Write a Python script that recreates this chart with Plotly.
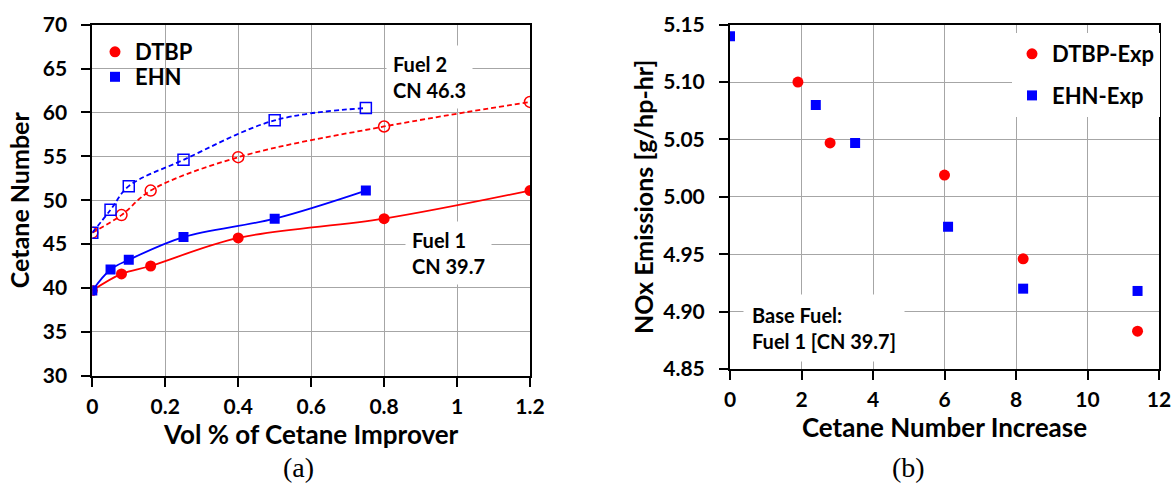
import plotly.graph_objects as go

# ---------------- data: panel (a) ----------------
dtbp_vol = [0, 0.08, 0.16, 0.4, 0.8, 1.2]
dtbp_fuel1 = [39.7, 41.6, 42.5, 45.7, 47.9, 51.1]
dtbp_fuel2 = [46.3, 48.3, 51.1, 54.9, 58.4, 61.2]
ehn_vol = [0, 0.05, 0.1, 0.25, 0.5, 0.75]
ehn_fuel1 = [39.7, 42.1, 43.2, 45.8, 47.9, 51.1]
ehn_fuel2 = [46.3, 48.9, 51.6, 54.6, 59.1, 60.5]

# ---------------- data: panel (b) ----------------
dtbp_cn_inc = [1.9, 2.8, 6.0, 8.2, 11.4]
dtbp_nox = [5.100, 5.047, 5.019, 4.946, 4.883]
ehn_cn_inc = [0, 2.4, 3.5, 6.1, 8.2, 11.4]
ehn_nox = [5.140, 5.080, 5.047, 4.974, 4.920, 4.918]

RED = "#ff0000"
BLUE = "#0000ff"
FONT = "Lato"
GRID = "#a6a6a6"

fig = go.Figure()

# panel (a) smooth lines
fig.add_trace(go.Scatter(x=dtbp_vol, y=dtbp_fuel1, mode="lines", line=dict(color=RED, width=1.8, shape="spline"),
                         showlegend=False, xaxis="x", yaxis="y"))
fig.add_trace(go.Scatter(x=dtbp_vol, y=dtbp_fuel2, mode="lines", line=dict(color=RED, width=1.8, shape="spline", dash="5px,3px"),
                         showlegend=False, xaxis="x", yaxis="y"))
fig.add_trace(go.Scatter(x=ehn_vol, y=ehn_fuel1, mode="lines", line=dict(color=BLUE, width=1.8, shape="spline"),
                         showlegend=False, xaxis="x", yaxis="y"))
fig.add_trace(go.Scatter(x=ehn_vol, y=ehn_fuel2, mode="lines", line=dict(color=BLUE, width=1.8, shape="spline", dash="5px,3px"),
                         showlegend=False, xaxis="x", yaxis="y"))
# panel (a) markers
fig.add_trace(go.Scatter(x=dtbp_vol, y=dtbp_fuel2, mode="markers",
                         marker=dict(symbol="circle-open", size=11, color=RED, line=dict(width=1.5, color=RED)),
                         showlegend=False, xaxis="x", yaxis="y"))
fig.add_trace(go.Scatter(x=ehn_vol, y=ehn_fuel2, mode="markers",
                         marker=dict(symbol="square-open", size=11, color=BLUE, line=dict(width=1.5, color=BLUE)),
                         showlegend=False, xaxis="x", yaxis="y"))
fig.add_trace(go.Scatter(x=dtbp_vol, y=dtbp_fuel1, mode="markers", name="DTBP",
                         marker=dict(symbol="circle", size=11, color=RED),
                         legend="legend", xaxis="x", yaxis="y"))
fig.add_trace(go.Scatter(x=ehn_vol, y=ehn_fuel1, mode="markers", name="EHN",
                         marker=dict(symbol="square", size=10, color=BLUE),
                         legend="legend3", xaxis="x", yaxis="y"))

# panel (b)
fig.add_trace(go.Scatter(x=dtbp_cn_inc, y=dtbp_nox, mode="markers", name="DTBP-Exp",
                         marker=dict(symbol="circle", size=11, color=RED),
                         legend="legend2", legendgroup="d", xaxis="x2", yaxis="y2"))
fig.add_trace(go.Scatter(x=ehn_cn_inc, y=ehn_nox, mode="markers", name="EHN-Exp",
                         marker=dict(symbol="square", size=10, color=BLUE),
                         legend="legend2", legendgroup="e", xaxis="x2", yaxis="y2"))

W, H = 1172, 484
def px_x(p):
    return p / W
def px_y(p):
    return 1 - p / H

axis_common = dict(
    showline=True, mirror=True, linecolor="black", linewidth=2,
    showgrid=True, gridcolor=GRID, gridwidth=1,
    ticks="outside", ticklen=9, tickwidth=1.5, tickcolor="black",
    zeroline=False, automargin=False,
    tickfont=dict(family=FONT, size=21, color="black", weight="bold"),
)
title_font_x = dict(family=FONT, size=26, color="black", weight="bold")
title_font_y = dict(family=FONT, size=25, color="black", weight="bold")
legend_font = dict(family=FONT, size=22, color="black", weight="bold")

fig.update_layout(
    width=W, height=H,
    margin=dict(l=0, r=0, t=0, b=0),
    paper_bgcolor="white", plot_bgcolor="white",
    font=dict(family=FONT, color="black"),
    xaxis=dict(domain=[px_x(92.3), px_x(530)], range=[0, 1.2], tickvals=[0, 0.2, 0.4, 0.6, 0.8, 1, 1.2],
               ticktext=["0", "0.2", "0.4", "0.6", "0.8", "1", "1.2"], ticklabelstandoff=2,
               title=dict(text="Vol % of Cetane Improver", standoff=0, font=title_font_x), anchor="y", **axis_common),
    yaxis=dict(domain=[px_y(375.7), px_y(24.7)], range=[30, 70], dtick=5, ticklabelstandoff=10,
               title=dict(text="Cetane Number", standoff=6, font=title_font_y), anchor="x", **axis_common),
    xaxis2=dict(domain=[px_x(730), px_x(1159)], range=[0, 12], dtick=2, ticklabelstandoff=2,
                title=dict(text="Cetane Number Increase", standoff=0, font=title_font_x), anchor="y2", **axis_common),
    yaxis2=dict(domain=[px_y(369), px_y(24.7)], range=[4.85, 5.15], dtick=0.05, tickformat=".2f",
                ticklabelstandoff=10,
                title=dict(text="NOx Emissions [g/hp-hr]", standoff=3, font=title_font_y), anchor="x2", **axis_common),
    legend=dict(x=px_x(95), y=px_y(31), xanchor="left", yanchor="top", bgcolor="rgba(0,0,0,0)",
                font=legend_font, itemwidth=30),
    legend3=dict(x=px_x(95), y=px_y(56), xanchor="left", yanchor="top", bgcolor="rgba(0,0,0,0)",
                 font=legend_font, itemwidth=30),
    legend2=dict(x=px_x(1012), y=px_y(33), xanchor="left", yanchor="top", bgcolor="white",
                 font=legend_font, tracegroupgap=10,
                 traceorder="grouped", itemwidth=30),
    shapes=[
        dict(type="rect", xref="paper", yref="paper", x0=px_x(96), x1=px_x(192), y0=px_y(92), y1=px_y(29),
             fillcolor="white", line=dict(width=0), layer="between"),
    ],
    annotations=[
        dict(text="Fuel 2<br>CN 46.3", x=0.805, y=64.0, xref="x", yref="y", xanchor="left", yanchor="middle",
             align="left", showarrow=False, bgcolor="white", borderpad=6,
             font=dict(family=FONT, size=20, color="black", weight="bold")),
        dict(text="Fuel 1<br>CN 39.7", x=0.857, y=44.0, xref="x", yref="y", xanchor="left", yanchor="middle",
             align="left", showarrow=False, bgcolor="white", borderpad=6,
             font=dict(family=FONT, size=20, color="black", weight="bold")),
        dict(text="Base Fuel:<br>Fuel 1 [CN 39.7]", x=0.37, y=4.8855, xref="x2", yref="y2", xanchor="left",
             yanchor="middle", align="left", showarrow=False, bgcolor="white", borderpad=8,
             font=dict(family=FONT, size=20, color="black", weight="bold")),
        dict(text="(a)", x=px_x(298), y=px_y(467), xref="paper", yref="paper", xanchor="center", yanchor="middle",
             showarrow=False, font=dict(family="Liberation Serif", size=28, color="black")),
        dict(text="(b)", x=px_x(908), y=px_y(467), xref="paper", yref="paper", xanchor="center", yanchor="middle",
             showarrow=False, font=dict(family="Liberation Serif", size=28, color="black")),
    ],
)

fig.write_html("out.html")
